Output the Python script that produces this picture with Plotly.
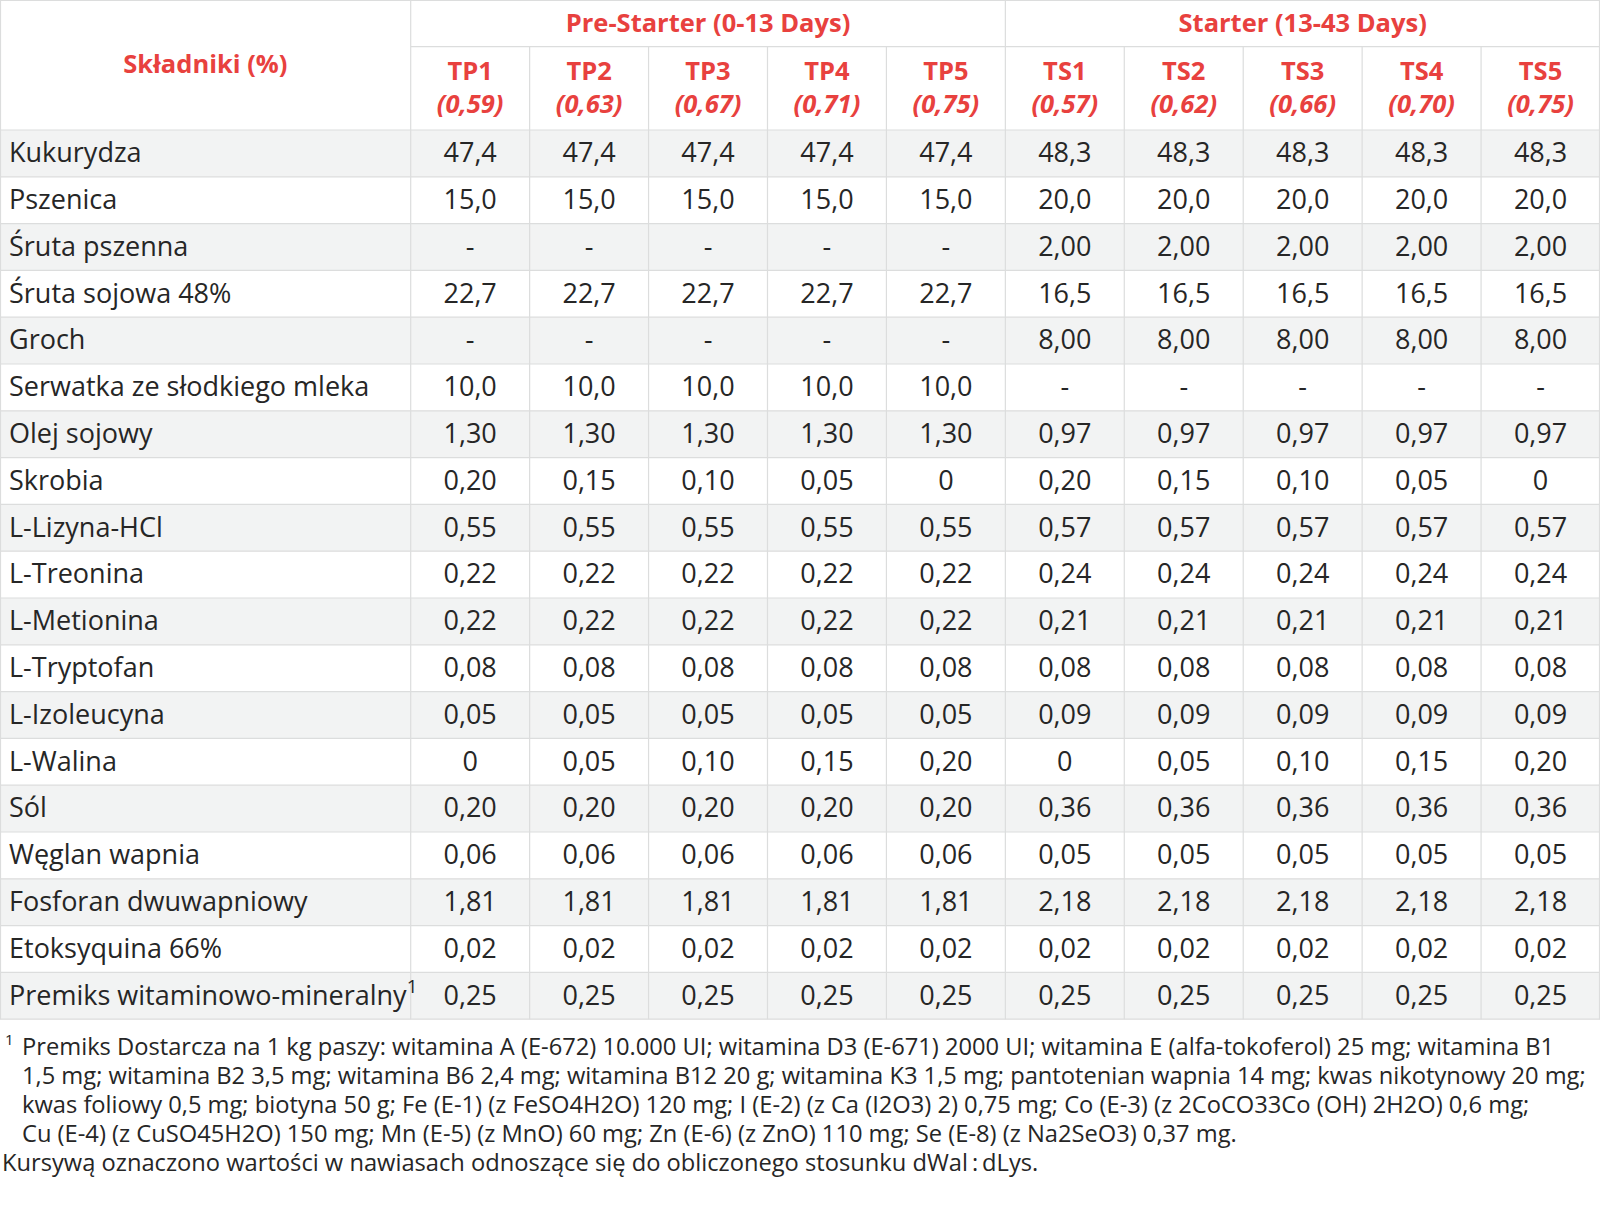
import plotly.graph_objects as go

# ---------------- data ----------------
header_label = "Składniki (%)"
group_labels = ["Pre-Starter (0-13 Days)", "Starter (13-43 Days)"]
treatments = ["TP1", "TP2", "TP3", "TP4", "TP5", "TS1", "TS2", "TS3", "TS4", "TS5"]
ratios = ["0,59", "0,63", "0,67", "0,71", "0,75", "0,57", "0,62", "0,66", "0,70", "0,75"]

ingredients = [
    "Kukurydza", "Pszenica", "Śruta pszenna", "Śruta sojowa 48%", "Groch",
    "Serwatka ze słodkiego mleka", "Olej sojowy", "Skrobia", "L-Lizyna-HCl",
    "L-Treonina", "L-Metionina", "L-Tryptofan", "L-Izoleucyna", "L-Walina", "Sól",
    "Węglan wapnia", "Fosforan dwuwapniowy", "Etoksyquina 66%",
    "Premiks witaminowo-mineralny<sup>1</sup>",
]

TP1 = ["47,4", "15,0", "-", "22,7", "-", "10,0", "1,30", "0,20", "0,55", "0,22", "0,22", "0,08", "0,05", "0", "0,20", "0,06", "1,81", "0,02", "0,25"]
TP2 = ["47,4", "15,0", "-", "22,7", "-", "10,0", "1,30", "0,15", "0,55", "0,22", "0,22", "0,08", "0,05", "0,05", "0,20", "0,06", "1,81", "0,02", "0,25"]
TP3 = ["47,4", "15,0", "-", "22,7", "-", "10,0", "1,30", "0,10", "0,55", "0,22", "0,22", "0,08", "0,05", "0,10", "0,20", "0,06", "1,81", "0,02", "0,25"]
TP4 = ["47,4", "15,0", "-", "22,7", "-", "10,0", "1,30", "0,05", "0,55", "0,22", "0,22", "0,08", "0,05", "0,15", "0,20", "0,06", "1,81", "0,02", "0,25"]
TP5 = ["47,4", "15,0", "-", "22,7", "-", "10,0", "1,30", "0", "0,55", "0,22", "0,22", "0,08", "0,05", "0,20", "0,20", "0,06", "1,81", "0,02", "0,25"]
TS1 = ["48,3", "20,0", "2,00", "16,5", "8,00", "-", "0,97", "0,20", "0,57", "0,24", "0,21", "0,08", "0,09", "0", "0,36", "0,05", "2,18", "0,02", "0,25"]
TS2 = ["48,3", "20,0", "2,00", "16,5", "8,00", "-", "0,97", "0,15", "0,57", "0,24", "0,21", "0,08", "0,09", "0,05", "0,36", "0,05", "2,18", "0,02", "0,25"]
TS3 = ["48,3", "20,0", "2,00", "16,5", "8,00", "-", "0,97", "0,10", "0,57", "0,24", "0,21", "0,08", "0,09", "0,10", "0,36", "0,05", "2,18", "0,02", "0,25"]
TS4 = ["48,3", "20,0", "2,00", "16,5", "8,00", "-", "0,97", "0,05", "0,57", "0,24", "0,21", "0,08", "0,09", "0,15", "0,36", "0,05", "2,18", "0,02", "0,25"]
TS5 = ["48,3", "20,0", "2,00", "16,5", "8,00", "-", "0,97", "0", "0,57", "0,24", "0,21", "0,08", "0,09", "0,20", "0,36", "0,05", "2,18", "0,02", "0,25"]
columns = [TP1, TP2, TP3, TP4, TP5, TS1, TS2, TS3, TS4, TS5]

footnote_mark = "1"
footnote_lines = [
    "Premiks Dostarcza na 1 kg paszy: witamina A (E-672) 10.000 UI; witamina D3 (E-671) 2000 UI; witamina E (alfa-tokoferol) 25 mg; witamina B1",
    "1,5 mg; witamina B2 3,5 mg; witamina B6 2,4 mg; witamina B12 20 g; witamina K3 1,5 mg; pantotenian wapnia 14 mg; kwas nikotynowy 20 mg;",
    "kwas foliowy 0,5 mg; biotyna 50 g; Fe (E-1) (z FeSO4H2O) 120 mg; I (E-2) (z Ca (I2O3) 2) 0,75 mg; Co (E-3) (z 2CoCO33Co (OH) 2H2O) 0,6 mg;",
    "Cu (E-4) (z CuSO45H2O) 150 mg; Mn (E-5) (z MnO) 60 mg; Zn (E-6) (z ZnO) 110 mg; Se (E-8) (z Na2SeO3) 0,37 mg.",
]
note_line = "Kursywą oznaczono wartości w nawiasach odnoszące się do obliczonego stosunku dWal\u2009:\u2009dLys."

# ---------------- layout constants ----------------
W, H = 1600, 1228
COL0_W = 410.7
NCOL = len(treatments)
COL_W = (W - COL0_W) / NCOL
GROUP_H = 46.7
HEAD_BOTTOM = 130.0
ROW_H = 46.8
NROW = len(ingredients)
TABLE_BOTTOM = HEAD_BOTTOM + NROW * ROW_H
TEXT_DY = 2.0

FONT = "Open Sans"
BODY_SIZE = 27
HEAD_SIZE = 25.5
RED = "#E8413E"
TXT = "#262626"
GRID = "#DCDDDD"
STRIPE = "#F2F3F3"
FOOT_SIZE = 23.7

col_left = [COL0_W + j * COL_W for j in range(NCOL + 1)]
col_center = [COL0_W + (j + 0.5) * COL_W for j in range(NCOL)]
row_center = [HEAD_BOTTOM + (i + 0.5) * ROW_H + TEXT_DY for i in range(NROW)]

fig = go.Figure()

# body values, one text trace per column
for j, col in enumerate(columns):
    fig.add_trace(go.Scatter(
        x=[col_center[j]] * NROW, y=row_center, text=col, mode="text",
        textposition="middle center", hoverinfo="skip", showlegend=False,
        textfont=dict(family=FONT, size=BODY_SIZE, color=TXT),
    ))

# ingredient labels
fig.add_trace(go.Scatter(
    x=[9] * NROW, y=row_center, text=ingredients, mode="text",
    textposition="middle right", hoverinfo="skip", showlegend=False,
    textfont=dict(family=FONT, size=BODY_SIZE, color=TXT),
))

# treatment headers
head_text = [f"<b>{t}</b><br><b><i>({r})</i></b>" for t, r in zip(treatments, ratios)]
fig.add_trace(go.Scatter(
    x=col_center, y=[(GROUP_H + HEAD_BOTTOM) / 2 + TEXT_DY] * NCOL, text=head_text, mode="text",
    textposition="middle center", hoverinfo="skip", showlegend=False,
    textfont=dict(family=FONT, size=HEAD_SIZE, color=RED),
))

# group headers + first header
grp_x = [COL0_W + 2.5 * COL_W, COL0_W + 7.5 * COL_W]
fig.add_trace(go.Scatter(
    x=grp_x + [COL0_W / 2],
    y=[GROUP_H / 2 + TEXT_DY] * 2 + [HEAD_BOTTOM / 2 + TEXT_DY],
    text=[f"<b>{g}</b>" for g in group_labels] + [f"<b>{header_label}</b>"],
    mode="text", textposition="middle center", hoverinfo="skip", showlegend=False,
    textfont=dict(family=FONT, size=HEAD_SIZE, color=RED),
))

shapes = []
# stripes
for i in range(NROW):
    if i % 2 == 0:
        shapes.append(dict(type="rect", xref="x", yref="y", x0=0, x1=W,
                           y0=HEAD_BOTTOM + i * ROW_H, y1=HEAD_BOTTOM + (i + 1) * ROW_H,
                           fillcolor=STRIPE, line=dict(width=0), layer="below"))
# horizontal lines
hl = [(0, W, 0.5), (COL0_W, W, GROUP_H)] + [(0, W, HEAD_BOTTOM + i * ROW_H) for i in range(NROW + 1)]
for xa, xb, yy in hl:
    shapes.append(dict(type="line", xref="x", yref="y", x0=xa, x1=xb, y0=yy, y1=yy,
                       line=dict(color=GRID, width=1.2), layer="below"))
# vertical lines
for j, xx in enumerate([0.5] + col_left + [W - 0.5]):
    full = j in (0, 1, 6, NCOL + 1, NCOL + 2)
    shapes.append(dict(type="line", xref="x", yref="y", x0=xx, x1=xx,
                       y0=0 if full else GROUP_H, y1=TABLE_BOTTOM,
                       line=dict(color=GRID, width=1.2), layer="below"))

annotations = [dict(x=3, y=1039, xref="x", yref="y", text=footnote_mark, showarrow=False,
                    xanchor="left", yanchor="middle",
                    font=dict(family=FONT, size=15, color=TXT))]
foot_y0 = 1046
FOOT_STEP = 29
for k, line in enumerate(footnote_lines):
    annotations.append(dict(x=20, y=foot_y0 + k * FOOT_STEP, xref="x", yref="y", text=line,
                            showarrow=False, xanchor="left", yanchor="middle",
                            font=dict(family=FONT, size=FOOT_SIZE, color=TXT)))
annotations.append(dict(x=0, y=foot_y0 + 4 * FOOT_STEP, xref="paper", yref="y", text=note_line,
                        showarrow=False, xanchor="left", yanchor="middle",
                        font=dict(family=FONT, size=FOOT_SIZE, color=TXT)))

fig.update_layout(
    width=W, height=H, margin=dict(l=0, r=0, t=0, b=0),
    paper_bgcolor="white", plot_bgcolor="white",
    xaxis=dict(range=[0, W], visible=False, fixedrange=True),
    yaxis=dict(range=[H, 0], visible=False, fixedrange=True),
    shapes=shapes, annotations=annotations, showlegend=False,
)

fig.write_html("out.html", config={"displayModeBar": False},
               post_script="document.body.style.margin='0';document.body.style.padding='0';")
